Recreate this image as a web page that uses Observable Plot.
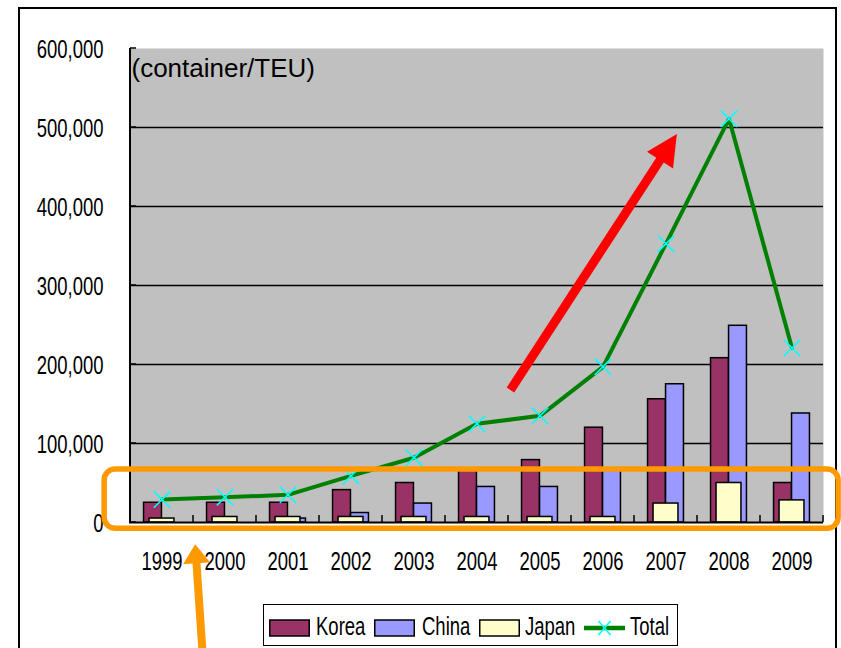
<!DOCTYPE html>
<html>
<head>
<meta charset="utf-8">
<script src="https://cdn.jsdelivr.net/npm/d3@7"></script>
<script src="https://cdn.jsdelivr.net/npm/@observablehq/plot@0.6"></script>
<style>
  html, body { margin: 0; padding: 0; background: #fff; overflow: hidden; }
  #wrap { position: relative; width: 841px; height: 648px; overflow: hidden; }
  #frame { position: absolute; left: 18px; top: 7px; width: 819px; height: 720px;
           border: 2px solid #000; box-sizing: border-box; }
  #chart { position: absolute; left: 0; top: 0; }
  #legend { position: absolute; left: 263px; top: 604px; width: 415px; height: 42px;
            border: 1.5px solid #000; box-sizing: border-box; background: #fff;
            font-family: 'Liberation Sans', Arial, sans-serif; font-size: 25px; color: #000; }
  #legend svg { position: absolute; top: 13.5px; display: block; }
  #legend span { position: absolute; top: 7px; line-height: 28px; white-space: nowrap;
                 transform: scaleX(0.74); transform-origin: 0 50%; }
</style>
</head>
<body>
<div id="wrap">
  <div id="frame"></div>
  <div id="chart"></div>
  <div id="legend"></div>
</div>
<script>
// ---- data ----
const years = ["1999","2000","2001","2002","2003","2004","2005","2006","2007","2008","2009"];
const korea = [25000, 25000, 25000, 41000, 50000, 68000, 79000, 120000, 156000, 208000, 50000];
const china = [0, 0, 5000, 12000, 24000, 45000, 45000, 68000, 175000, 249000, 138000];
const japan = [5000, 7000, 7000, 7000, 7000, 7000, 7000, 7000, 24000, 50000, 28000];
const total = [29000, 32000, 35000, 59000, 82000, 125000, 135000, 197000, 353000, 511000, 221000];
const yTicks = [0, 100000, 200000, 300000, 400000, 500000, 600000];
const gridValues = [100000, 200000, 300000, 400000, 500000];
const seriesNames = ["Korea", "China", "Japan", "Total"];
const unitLabel = "(container/TEU)";

const colors = { Korea: "#993366", China: "#9999FF", Japan: "#FFFFCC", Total: "#008000", marker: "#00FFFF" };
const SANS = "'Liberation Sans', Arial, sans-serif";
const NARROW_SCALE = 0.74;

const toRows = (vals) => years.map((year, i) => ({ year, value: vals[i] })).filter(d => d.value > 0);
const koreaData = toRows(korea), chinaData = toRows(china), japanData = toRows(japan), totalData = toRows(total);

const W = 841, H = 648, ML = 129, MR = 18, MT = 48, MB = 126;
const bw = (W - ML - MR) / years.length;

const chart = Plot.plot({
  width: W, height: H,
  marginLeft: ML, marginRight: MR, marginTop: MT, marginBottom: MB,
  style: { background: "transparent", fontFamily: SANS, fontSize: "25px", color: "#000", overflow: "visible" },
  x: { domain: years, padding: 0, label: null },
  y: { domain: [0, 600000], label: null },
  marks: [
    Plot.frame({ fill: "#C0C0C0", stroke: "none" }),
    Plot.ruleY(gridValues, { stroke: "#000", strokeWidth: 1.5 }),
    Plot.barY(koreaData, { x: "year", y: "value", fill: colors.Korea, stroke: "#000", strokeWidth: 1.5,
      insetLeft: bw / 2 - 18, insetRight: bw / 2 }),
    Plot.barY(chinaData, { x: "year", y: "value", fill: colors.China, stroke: "#000", strokeWidth: 1.5,
      insetLeft: bw / 2, insetRight: bw / 2 - 18 }),
    Plot.barY(japanData, { x: "year", y: "value", fill: colors.Japan, stroke: "#000", strokeWidth: 1.5,
      insetLeft: bw / 2 - 12.5, insetRight: bw / 2 - 12.5 }),
    Plot.ruleY([0], { stroke: "#000", strokeWidth: 2 }),
    Plot.line(totalData, { x: "year", y: "value", stroke: colors.Total, strokeWidth: 4, strokeLinejoin: "round" }),
    Plot.dot(totalData, { x: "year", y: "value", symbol: "times", r: 7.5, fill: "none", stroke: colors.marker, strokeWidth: 1.6 }),
    Plot.text([unitLabel], { text: d => d, frameAnchor: "top-left", textAnchor: "start", lineAnchor: "top",
      dx: 2, dy: 10, fontSize: 26, fontFamily: SANS, fill: "#000" }),
    Plot.axisX({ tickSize: 0, tickPadding: 30, fontSize: 25 }),
    Plot.axisY({ ticks: yTicks, tickFormat: d3.format(","), tickSize: 0, tickPadding: 26, fontSize: 25, dy: 1 })
  ]
});
document.getElementById("chart").appendChild(chart);

// narrow the tick labels (condensed look of the original font), anchored at their text-anchor point
const svg = d3.select(chart);
svg.selectAll('g[aria-label$="tick label"] text').each(function () {
  const bb = this.getBBox();
  const anchor = getComputedStyle(this).textAnchor || this.getAttribute("text-anchor") ||
                 (this.parentNode.getAttribute("text-anchor")) || "middle";
  const ax = anchor === "end" ? bb.x + bb.width : anchor === "start" ? bb.x : bb.x + bb.width / 2;
  const t = this.getAttribute("transform") || "";
  this.setAttribute("transform", `${t} translate(${ax},0) scale(${NARROW_SCALE},1) translate(${-ax},0)`);
});

// ---- overlay: axis line, inward ticks, annotations (positioned through the chart's scales) ----
const sx = chart.scale("x"), sy = chart.scale("y");
const band = sx.bandwidth;
const X = (i) => sx.apply(years[0]) + i * band;   // fractional band index
const Y = (v) => sy.apply(v);
const g = svg.append("g");

g.append("line").attr("x1", X(0)).attr("x2", X(0)).attr("y1", Y(600000)).attr("y2", Y(0))
  .attr("stroke", "#000").attr("stroke-width", 2);
for (let i = 1; i <= years.length; i++) {
  g.append("line").attr("x1", X(i)).attr("x2", X(i)).attr("y1", Y(0)).attr("y2", Y(0) - 7)
    .attr("stroke", "#000").attr("stroke-width", 1.5);
}
for (const v of yTicks) {
  g.append("line").attr("x1", X(0)).attr("x2", X(0) + 6).attr("y1", Y(v)).attr("y2", Y(v))
    .attr("stroke", "#000").attr("stroke-width", 1.5);
}

function arrow(x1, y1, x2, y2, shaft, headLen, headW, color) {
  const dx = x2 - x1, dy = y2 - y1, len = Math.hypot(dx, dy);
  const ux = dx / len, uy = dy / len, nx = -uy, ny = ux;
  const bx = x2 - ux * headLen, by = y2 - uy * headLen;
  const pts = [
    [x1 + nx * shaft / 2, y1 + ny * shaft / 2],
    [bx + nx * shaft / 2, by + ny * shaft / 2],
    [bx + nx * headW / 2, by + ny * headW / 2],
    [x2, y2],
    [bx - nx * headW / 2, by - ny * headW / 2],
    [bx - nx * shaft / 2, by - ny * shaft / 2],
    [x1 - nx * shaft / 2, y1 - ny * shaft / 2]
  ];
  g.append("polygon").attr("points", pts.map(p => p.join(",")).join(" ")).attr("fill", color);
}

// orange highlight box around the low values
const bx0 = X(-0.41), bx1 = X(11.24), by0 = Y(67000), by1 = Y(-8000);
g.append("rect").attr("x", bx0).attr("y", by0).attr("width", bx1 - bx0).attr("height", by1 - by0)
  .attr("rx", 11).attr("ry", 11).attr("fill", "none").attr("stroke", "#FF9900").attr("stroke-width", 5.5);

// red growth arrow
arrow(X(6.039), Y(167000), X(8.681), Y(491000), 9, 31, 31, "#FF0000");
// orange arrow pointing at 1999/2000
arrow(X(1.165), Y(-181000), X(1.035), Y(-28200), 8, 19, 27, "#FF9900");

// ---- legend ----
const legend = d3.select("#legend");
const swatchLeft = [4.5, 109.5, 214.5, 319.5];
const textLeft = [51.5, 157.5, 260.5, 365.5];
seriesNames.forEach((name, i) => {
  const s = legend.append("svg").attr("width", 41).attr("height", 18).style("left", swatchLeft[i] + "px");
  if (name === "Total") {
    s.append("line").attr("x1", 0).attr("x2", 41).attr("y1", 9).attr("y2", 9)
      .attr("stroke", colors.Total).attr("stroke-width", 4.5);
    s.append("path").attr("d", "M14.5,2L26.5,16M26.5,2L14.5,16").attr("stroke", colors.marker)
      .attr("stroke-width", 1.6).attr("fill", "none");
  } else {
    s.append("rect").attr("x", 0.75).attr("y", 1).attr("width", 39.5).attr("height", 16)
      .attr("fill", colors[name]).attr("stroke", "#000").attr("stroke-width", 1.5);
  }
  legend.append("span").text(name).style("left", textLeft[i] + "px");
});
</script>
</body>
</html>
